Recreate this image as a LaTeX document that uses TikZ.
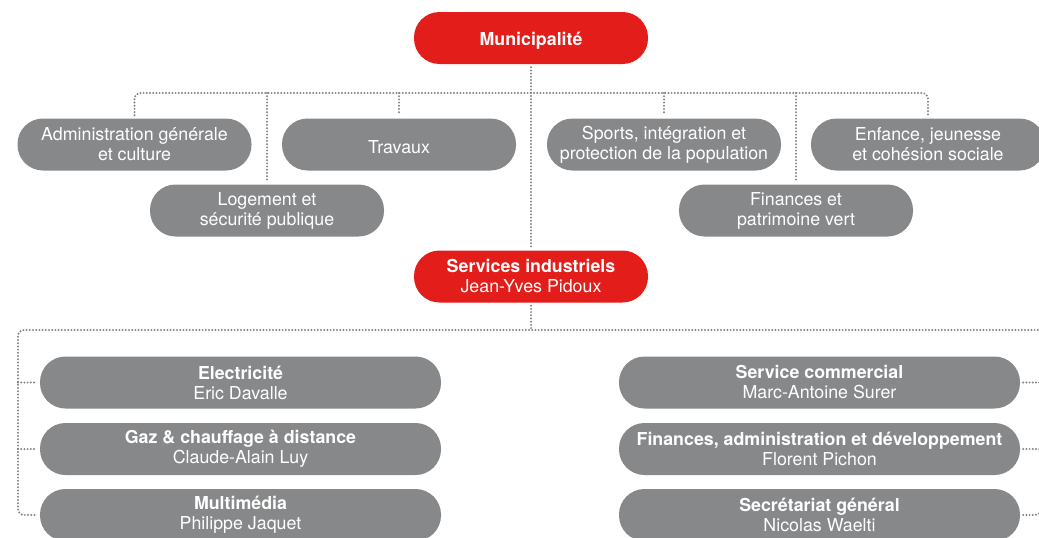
\documentclass[tikz,border=0pt]{standalone}
\usepackage{fontspec}
\setmainfont{TeX Gyre Heros}
\definecolor{redbox}{HTML}{E31D1A}
\definecolor{greybox}{HTML}{87888A}
\definecolor{dotgrey}{HTML}{848486}
\begin{document}
\begin{tikzpicture}[x=1pt,y=-1pt,
  box/.style={rectangle,rounded corners=25.5pt,text=white,align=center,
    font=\fontsize{17.8}{20}\selectfont,inner sep=0pt,minimum height=52pt},
  redb/.style={box,fill=redbox,minimum width=234pt},
  greyb/.style={box,fill=greybox,minimum width=234pt},
  wideb/.style={box,fill=greybox,minimum width=401pt},
  dotline/.style={draw=dotgrey,line width=2.2pt,line cap=round,dash pattern=on 0pt off 3.2pt,rounded corners=6pt}]
\useasboundingbox (0,0) rectangle (1039,538);
% nodes
\node[redb] (mun) at (531,38) {\raisebox{-2.5pt}[\height][\depth]{\bfseries Municipalité}};
\node[greyb] (adm) at (134.5,144.5) {Administration générale\\et culture};
\node[greyb] (trav) at (399,144.5) {\raisebox{-2.5pt}[\height][\depth]{Travaux}};
\node[greyb] (log) at (267,210.5) {Logement et\\sécurité publique};
\node[greyb] (spo) at (664,144.5) {Sports, intégration et\\protection de la population};
\node[greyb] (enf) at (928,144.5) {Enfance, jeunesse\\et cohésion sociale};
\node[greyb] (fin) at (796,210.5) {Finances et\\patrimoine vert};
\node[redb] (sind) at (531,276.5) {\bfseries Services industriels\\Jean-Yves Pidoux};
\node[wideb] (ele) at (240.5,382.5) {\bfseries Electricité\\Eric Davalle};
\node[wideb] (gaz) at (240.5,449) {\bfseries Gaz \& chauffage à distance\\Claude-Alain Luy};
\node[wideb] (mul) at (240.5,515) {\bfseries Multimédia\\Philippe Jaquet};
\node[wideb] (com) at (819.5,382.5) {\bfseries Service commercial\\Marc-Antoine Surer};
\node[wideb] (fad) at (819.5,449) {\bfseries Finances, administration et développement\\Florent Pichon};
\node[wideb] (sec) at (819.5,515) {\bfseries Secrétariat général\\Nicolas Waelti};
% coordinates
\coordinate (h1) at (531,93);
\coordinate (h2) at (531,330);
\coordinate (lc) at (18,330);
\coordinate (rc) at (1041,330);
% connectors top
\draw[dotline,shorten <=3pt,shorten >=3pt] (mun.south) -- (sind.north);
\draw[dotline,shorten <=3pt,shorten >=3pt] (adm.north) -- (adm.north |- h1) -- (enf.north |- h1) -- (enf.north);
\draw[dotline,shorten >=3pt] (trav.north |- h1) -- (trav.north);
\draw[dotline,shorten >=3pt] (log.north |- h1) -- (log.north);
\draw[dotline,shorten >=3pt] (spo.north |- h1) -- (spo.north);
\draw[dotline,shorten >=3pt] (fin.north |- h1) -- (fin.north);
% connectors bottom
\draw[dotline,shorten <=3pt] (sind.south) -- (h2);
\draw[dotline,shorten >=3pt] (rc) -- (lc) -- (lc |- mul.west) -- (mul.west);
\draw[dotline,shorten >=3pt] (lc |- ele.west) -- (ele.west);
\draw[dotline,shorten >=3pt] (lc |- gaz.west) -- (gaz.west);
\draw[dotline,shorten <=3pt] (com.east) -- (rc |- com.east);
\draw[dotline,shorten <=3pt] (fad.east) -- (rc |- fad.east);
\draw[dotline,shorten <=3pt] (sec.east) -- (rc |- sec.east) -- (rc);
\end{tikzpicture}
\end{document}
